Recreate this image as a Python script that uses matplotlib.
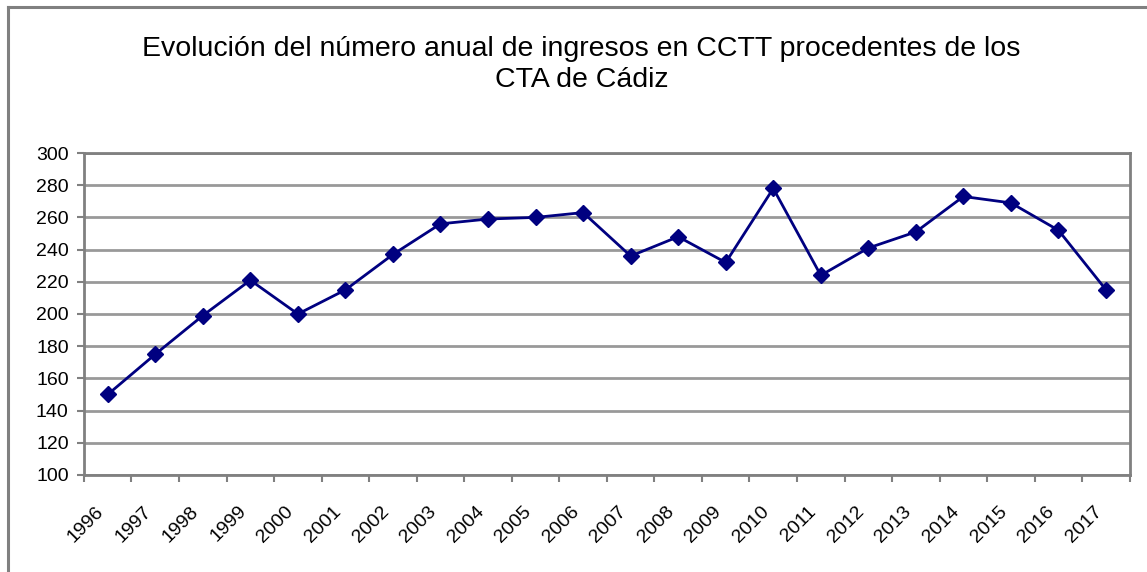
import matplotlib
matplotlib.use("Agg")
import matplotlib.pyplot as plt

# =====================================
# DATA
# =====================================

years = [str(y) for y in range(1996, 2018)]
ingresos = [150, 175, 199, 221, 200, 215, 237, 256, 259, 260, 263,
            236, 248, 232, 278, 224, 241, 251, 273, 269, 252, 215]

# =====================================
# FIGURE
# =====================================

plt.rcParams["font.family"] = ["Liberation Sans", "DejaVu Sans"]

fig = plt.figure(figsize=(11.47, 5.72), dpi=100)
ax = fig.add_axes([0.0732, 0.1696, 0.9118, 0.5629])

# outer chart border (only top and left fall inside the picture)
W, H = 1147, 572
fig.add_artist(plt.Line2D([8 / W, 8 / W], [0, 1 - 7 / H], transform=fig.transFigure,
                          color="#808080", linewidth=2.2))
fig.add_artist(plt.Line2D([8 / W, 1], [1 - 7 / H, 1 - 7 / H], transform=fig.transFigure,
                          color="#808080", linewidth=2.2))

x = range(len(years))
ax.plot(x, ingresos, color="#000080", linewidth=2, marker="D",
        markersize=8.5, markerfacecolor="#000080", markeredgecolor="#000080", zorder=3)

ax.set_xlim(-0.5, len(years) - 0.5)
ax.set_ylim(100, 300)
ax.set_yticks(range(100, 301, 20))

# category ticks on the boundaries; labels sit a bit left of each centre
ax.set_xticks([i - 0.5 for i in range(len(years) + 1)])
ax.set_xticklabels([])
ax.set_xticks([i - 0.27 for i in x], minor=True)
ax.set_xticklabels(years, minor=True, rotation=45, ha="right", va="top",
                   rotation_mode="anchor", fontsize=14)
ax.tick_params(axis="x", which="minor", length=0, pad=20)
ax.tick_params(axis="x", which="major", length=5, width=1.5, color="#808080")
ax.tick_params(axis="y", length=5, width=1.5, color="#808080", labelsize=14, pad=6)

ax.grid(axis="y", color="#999999", linewidth=2)
ax.set_axisbelow(True)
for side in ["left", "bottom", "right", "top"]:
    ax.spines[side].set_color("#808080")
    ax.spines[side].set_linewidth(2)

fig.text(0.507, 0.888,
         "Evolución del número anual de ingresos en CCTT procedentes de los\nCTA de Cádiz",
         ha="center", va="center", fontsize=20.5, linespacing=1.25)

plt.savefig("out.png", dpi=100)
